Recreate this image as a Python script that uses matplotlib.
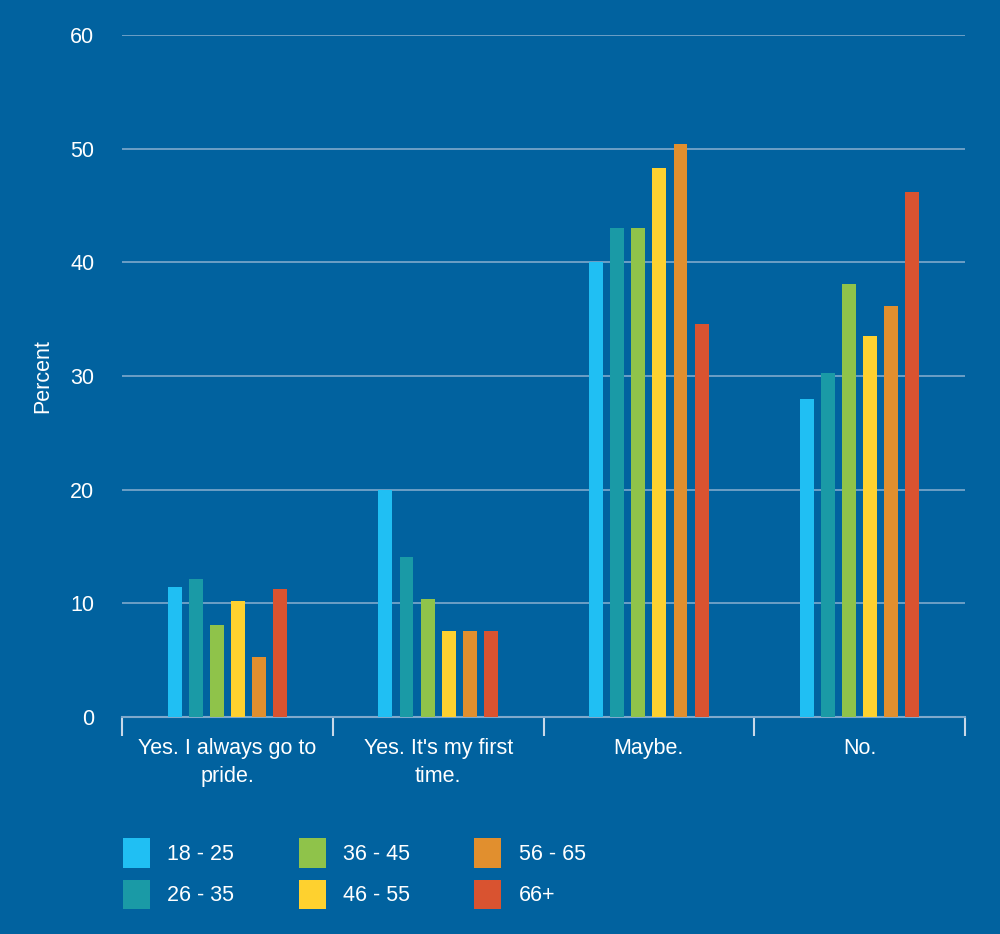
import matplotlib
matplotlib.use("Agg")
import matplotlib.pyplot as plt
from matplotlib.patches import Patch
import numpy as np

categories = ["Yes. I always go to\npride.", "Yes. It's my first\ntime.", "Maybe.", "No."]
age_groups = ["18 - 25", "26 - 35", "36 - 45", "46 - 55", "56 - 65", "66+"]
values = {
    "18 - 25": [11.4, 20.0, 40.0, 28.0],
    "26 - 35": [12.1, 14.1, 43.0, 30.3],
    "36 - 45": [8.1, 10.4, 43.0, 38.1],
    "46 - 55": [10.2, 7.6, 48.3, 33.5],
    "56 - 65": [5.3, 7.6, 50.4, 36.2],
    "66+": [11.3, 7.6, 34.6, 46.2],
}
colors = ["#20bff3", "#1a9aa6", "#8fc34a", "#fed12f", "#e18f2e", "#d95330"]

BG = "#01629f"
GRID = "#7fa9cc"
FS = 15.5

plt.rcParams["font.family"] = ["Liberation Sans", "DejaVu Sans"]

fig = plt.figure(figsize=(10, 9.34), dpi=100, facecolor=BG)
ax = fig.add_axes([0.122, 0.2323, 0.843, 0.7302])
ax.set_facecolor(BG)

x = np.arange(len(categories))
step = 0.1
width = 0.066
for i, (grp, col) in enumerate(zip(age_groups, colors)):
    offs = (i - 2.5) * step
    ax.bar(x + offs, values[grp], width=width, color=col, zorder=3, label=grp)

ax.set_xlim(-0.5, len(categories) - 0.5)
ax.set_ylim(0, 60)
ax.set_yticks(range(0, 61, 10))
ax.yaxis.grid(True, color=GRID, linewidth=1.2, zorder=0)
ax.set_axisbelow(True)

for s in ["top", "right", "left"]:
    ax.spines[s].set_visible(False)
ax.spines["bottom"].set_color(GRID)
ax.spines["bottom"].set_linewidth(1.5)

ax.set_xticks(x)
ax.set_xticklabels(categories, color="white", fontsize=FS, linespacing=1.45)
ax.tick_params(axis="x", length=0, pad=15)
ax.set_xticks(np.arange(-0.5, len(categories)), minor=True)
ax.tick_params(axis="x", which="minor", length=14, width=1.5, color="#c8d8e8")
ax.tick_params(axis="y", length=0, labelcolor="white", labelsize=FS, pad=20)
ax.set_ylabel("Percent", color="white", fontsize=FS, labelpad=12)

handles = [Patch(facecolor=c, edgecolor="none") for c in colors]
fig.legend(handles, age_groups, loc="upper left", bbox_to_anchor=(0.123, 1 - 838 / 934),
           ncol=3, frameon=False, fontsize=FS, labelcolor="white", borderpad=0,
           borderaxespad=0, handlelength=1.25, handleheight=1.75, handletextpad=0.8,
           columnspacing=3.0, labelspacing=0.55)

fig.savefig("out.png", dpi=100, facecolor=BG)
